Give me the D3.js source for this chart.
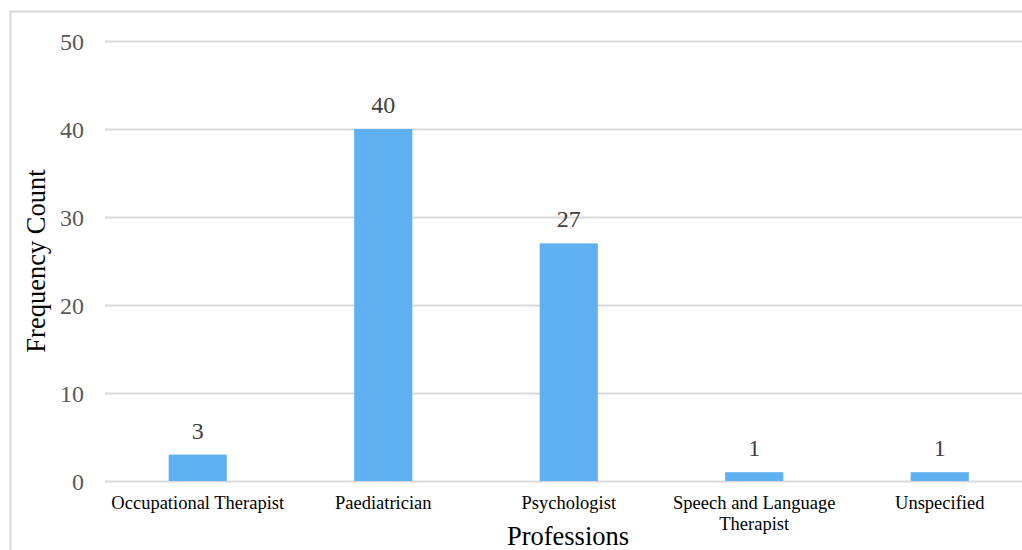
<!DOCTYPE html>
<html>
<head>
<meta charset="utf-8">
<script src="https://cdn.jsdelivr.net/npm/d3@7"></script>
<style>
  html, body { margin: 0; padding: 0; background: #fff; }
  svg { display: block; }
</style>
</head>
<body>
<svg id="chart" width="1022" height="550"></svg>
<script>
// Counts of respondents by profession
const professions = ["Occupational Therapist", "Paediatrician", "Psychologist", "Speech and Language Therapist", "Unspecified"];
const counts = [3, 40, 27, 1, 1];
const yTicks = [0, 10, 20, 30, 40, 50];

const svg = d3.select("#chart");
const W = 1022, H = 550;
const plot = { left: 105, right: 1032.5, top: 41, bottom: 481 };
const font = "'Liberation Serif', 'Times New Roman', serif";

// Outer frame (top and left edges)
svg.append("path")
  .attr("d", `M10.5,${H} V11.5 H${W}`)
  .attr("fill", "none")
  .attr("stroke", "#d9d9d9")
  .attr("stroke-width", 2);

const x = d3.scaleBand().domain(professions).range([plot.left, plot.right]).paddingInner(0.6865).paddingOuter(0.3433);
const y = d3.scaleLinear().domain([0, 50]).range([plot.bottom, plot.top]);

// Gridlines and value axis
const yAxis = d3.axisLeft(y).tickValues(yTicks).tickSize(-(plot.right - plot.left)).tickPadding(21);
const gy = svg.append("g").attr("transform", `translate(${plot.left},0)`).call(yAxis);
gy.select(".domain").remove();
gy.selectAll(".tick line").attr("stroke", "#d9d9d9").attr("stroke-width", 2);
gy.selectAll(".tick text")
  .attr("font-family", font).attr("font-size", 24).attr("fill", "#595959")
  .attr("dy", "0.35em");

// Bars
svg.append("g").selectAll("rect")
  .data(professions)
  .join("rect")
  .attr("x", d => x(d))
  .attr("width", x.bandwidth())
  .attr("y", (d, i) => y(counts[i]))
  .attr("height", (d, i) => y(0) - y(counts[i]))
  .attr("fill", "#5eb0f0");

// Value labels
svg.append("g").selectAll("text")
  .data(professions)
  .join("text")
  .attr("x", d => x(d) + x.bandwidth() / 2)
  .attr("y", (d, i) => y(counts[i]) - 16)
  .attr("text-anchor", "middle")
  .attr("font-family", font).attr("font-size", 24).attr("fill", "#404040")
  .text((d, i) => counts[i]);

// Category labels (wrapped where long)
const catLines = {
  "Speech and Language Therapist": ["Speech and Language", "Therapist"]
};
const gx = svg.append("g");
professions.forEach(p => {
  const lines = catLines[p] || [p];
  const cx = x(p) + x.bandwidth() / 2;
  const t = gx.append("text")
    .attr("x", cx)
    .attr("y", 509)
    .attr("text-anchor", "middle")
    .attr("font-family", font).attr("font-size", 18.5).attr("fill", "#000");
  lines.forEach((l, i) => {
    t.append("tspan").attr("x", cx).attr("dy", i === 0 ? 0 : 21).text(l);
  });
});

// Axis titles
svg.append("text")
  .attr("x", 568).attr("y", 545)
  .attr("text-anchor", "middle")
  .attr("font-family", font).attr("font-size", 26.5).attr("fill", "#000")
  .text("Professions");

svg.append("text")
  .attr("transform", "translate(45,261) rotate(-90)")
  .attr("text-anchor", "middle")
  .attr("font-family", font).attr("font-size", 26.5).attr("fill", "#000")
  .text("Frequency Count");
</script>
</body>
</html>
